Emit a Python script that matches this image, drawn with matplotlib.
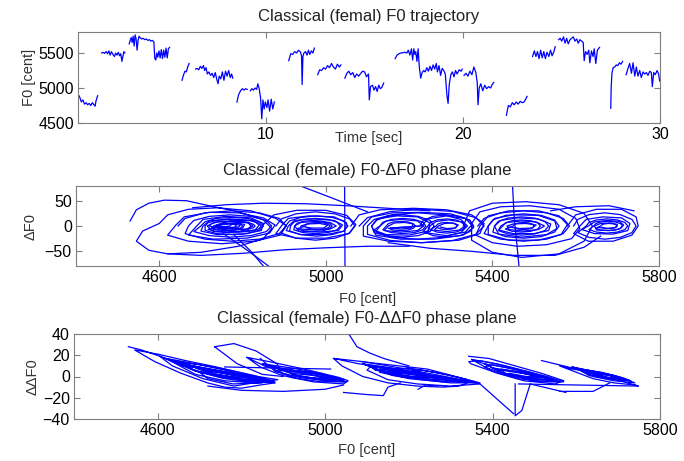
import matplotlib
matplotlib.use('Agg')
import matplotlib.pyplot as plt

plt.rcParams['font.family'] = ['Liberation Sans', 'DejaVu Sans']

# ---------------- top panel: F0 trajectory, voiced segments (time [sec], F0 [cent]) ----------------
f0_segments = [
    [(0.50,4890),(0.55,4860),(0.62,4800),(0.70,4830),(0.78,4770),(0.86,4790),(0.94,4760),(1.02,4780),
     (1.10,4750),(1.18,4790),(1.26,4760),(1.32,4740),(1.36,4810),(1.40,4850),(1.45,4890)],
    [(1.65,5500),(1.72,5510),(1.80,5495),(1.88,5520),(1.95,5490),(2.02,5530),(2.08,5470),(2.15,5520),
     (2.22,5480),(2.30,5450),(2.36,5500),(2.43,5470),(2.50,5510),(2.56,5460),(2.62,5490),(2.68,5380),
     (2.72,5440),(2.78,5520),(2.83,5500)],
    [(3.05,5630),(3.10,5680),(3.15,5720),(3.20,5650),(3.25,5740),(3.30,5600),(3.35,5760),(3.40,5700),
     (3.45,5540),(3.50,5680),(3.55,5740),(3.60,5720),(3.68,5700),(3.76,5710),(3.84,5690),(3.92,5700),
     (4.00,5680),(4.08,5690),(4.15,5670),(4.22,5680),(4.30,5660),(4.35,5420),(4.40,5400),(4.45,5500),
     (4.50,5440),(4.56,5530),(4.62,5430),(4.68,5550),(4.74,5420),(4.80,5540),(4.86,5440),(4.92,5570),
     (4.98,5430),(5.04,5560),(5.10,5580)],
    [(5.73,5110),(5.80,5180),(5.88,5240),(5.95,5230),(6.02,5300),(6.09,5350)],
    [(6.42,5270),(6.50,5280),(6.58,5260),(6.66,5310),(6.74,5280),(6.82,5320),(6.88,5250),(6.95,5290),
     (7.02,5200),(7.10,5230),(7.18,5180),(7.26,5210),(7.34,5150),(7.42,5220),(7.50,5120),(7.56,5060),
     (7.62,5170),(7.70,5130),(7.78,5230),(7.86,5110),(7.94,5240),(8.02,5170),(8.10,5250),(8.18,5150),
     (8.25,5200),(8.31,5140)],
    [(8.52,4800),(8.60,4900),(8.70,4960),(8.80,4990),(8.88,4970),(8.96,4990),(9.04,4980)],
    [(9.20,4960),(9.28,4990),(9.36,4970),(9.44,5000),(9.52,4980),(9.58,5060),(9.65,4990),(9.72,4860),
     (9.78,4560),(9.84,4830),(9.90,4700),(9.96,4800),(10.04,4720),(10.10,4830),(10.18,4670),(10.26,4840),
     (10.34,4700),(10.42,4800)],
    [(11.15,5390),(11.25,5490),(11.35,5480),(11.45,5520),(11.55,5500),(11.65,5540),(11.75,5510),(11.80,5460),
     (11.83,5050),(11.87,5450),(11.92,5500),(12.00,5520),(12.08,5470),(12.15,5540),(12.22,5480),(12.30,5530),
     (12.38,5500),(12.45,5570)],
    [(12.62,5190),(12.72,5260),(12.82,5250),(12.92,5290),(13.02,5270),(13.12,5320),(13.22,5290),(13.32,5350),
     (13.42,5300),(13.52,5270),(13.62,5340),(13.72,5300),(13.80,5330)],
    [(14.00,5140),(14.10,5210),(14.20,5240),(14.30,5190),(14.40,5220),(14.50,5150),(14.60,5200),(14.70,5170),
     (14.81,5210),(14.90,5240),(15.00,5230),(15.10,5160),(15.20,5200),(15.24,4830),(15.30,5020),(15.40,5040),
     (15.48,4970),(15.56,5020),(15.64,4950),(15.72,5040),(15.80,4990),(15.88,5010),(15.97,5070)],
    [(16.55,5420),(16.65,5470),(16.75,5490),(16.85,5500),(16.95,5505),(17.05,5510),(17.15,5500),(17.22,5540),
     (17.30,5470),(17.38,5560),(17.44,5400),(17.50,5560),(17.55,5480),(17.60,5520),(17.66,5380),(17.72,5560),
     (17.78,5300),(17.85,5140),(17.92,5220),(18.00,5250),(18.08,5230),(18.16,5290),(18.24,5240),(18.32,5310),
     (18.40,5250),(18.48,5330),(18.56,5270),(18.64,5350),(18.70,5230),(18.78,5320),(18.86,5180),(18.94,5280),
     (19.02,5250),(19.10,5200),(19.18,4900),(19.24,4780),(19.30,5050),(19.38,5190),(19.46,5230),(19.54,5160),
     (19.62,5250),(19.70,5200),(19.80,5260),(19.90,5240),(19.96,5270)],
    [(20.05,5180),(20.15,5210),(20.25,5170),(20.35,5240),(20.45,5190),(20.55,5300),(20.65,5220),(20.72,5080),
     (20.76,4760),(20.82,5000),(20.90,5060),(21.00,4960),(21.10,5040),(21.20,4990),(21.30,5020),(21.40,5000),
     (21.48,5050),(21.56,5080)],
    [(22.20,4610),(22.30,4750),(22.40,4730),(22.50,4790),(22.60,4760),(22.70,4800),(22.80,4770),(22.90,4810),
     (23.00,4790),(23.10,4800),(23.18,4840),(23.25,4880)],
    [(23.53,5450),(23.62,5530),(23.70,5450),(23.78,5520),(23.86,5420),(23.94,5540),(24.02,5430),(24.10,5520),
     (24.18,5420),(24.26,5510),(24.36,5450),(24.44,5540),(24.52,5460),(24.60,5510),(24.68,5590)],
    [(24.85,5690),(24.93,5710),(25.01,5670),(25.10,5730),(25.18,5640),(25.26,5710),(25.34,5630),(25.43,5690),
     (25.51,5710),(25.60,5730),(25.68,5670),(25.77,5700),(25.85,5640),(25.93,5690),(26.02,5670),(26.10,5650),
     (26.15,5390),(26.22,5520),(26.30,5480),(26.38,5540),(26.44,5360),(26.52,5530),(26.60,5450),(26.66,5560),
     (26.74,5350),(26.82,5540),(26.93,5580)],
    [(27.50,4710),(27.52,5000),(27.56,5210),(27.62,5290),(27.70,5300),(27.78,5330),(27.86,5320),(27.94,5360),
     (28.02,5340),(28.10,5380)],
    [(28.28,5190),(28.40,5300),(28.46,5350),(28.55,5210),(28.63,5360),(28.72,5170),(28.80,5300),(28.88,5170),
     (28.97,5250),(29.05,5150),(29.14,5230),(29.22,5200),(29.31,5220),(29.39,5180),(29.48,5240),(29.56,5220),
     (29.61,5020),(29.68,5220),(29.76,5190),(29.85,5250),(29.93,5200),(29.98,5100)],
]

# ---------------- middle panel: F0 - dF0 phase plane (F0, dF0) ----------------
dF0_cluster1 = [(4530,10),(4545,32),(4575,45),(4612,51),(4665,50),(4720,40),(4790,28),(4850,12),(4870,-5),
    (4850,-25),(4790,-40),(4700,-52),(4620,-55),(4575,-48),(4545,-30),(4560,-10),
    (4600,5),(4620,22),(4670,33),(4740,36),(4820,30),(4880,15),(4905,0),(4890,-18),(4830,-30),(4750,-35),
    (4670,-30),(4620,-18),(4640,2),(4660,18),(4720,27),(4790,26),(4850,16),(4878,2),(4865,-14),(4810,-24),
    (4730,-26),(4670,-18),(4690,0),(4705,13),(4760,19),(4820,16),(4850,5),(4845,-9),(4800,-16),(4740,-17),
    (4700,-10),(4705,0),(4720,10),(4770,14),(4825,11),(4840,2),(4830,-8),(4780,-12),(4730,-11),
    (4715,0),(4735,8),(4775,10),(4815,7),(4825,0),(4810,-6),(4770,-9),(4730,-7),
    (4730,0),(4750,5),(4785,6),(4805,3),(4800,-4),(4770,-6),(4740,-4),(4735,0),
    (4745,2),(4770,4),(4795,2),(4790,-2),(4765,-3),(4750,-1)]
dF0_dense1 = [(4645,0),(4662,15),(4710,26),(4775,30),(4840,26),(4888,15),(4905,0),(4888,-15),(4840,-26),(4775,-30),(4710,-26),(4662,-15),
    (4670,0),(4683,11),(4720,19),(4770,22),(4820,19),(4857,11),(4870,0),(4857,-11),(4820,-19),(4770,-22),(4720,-19),(4683,-11),
    (4700,0),(4710,8.5),(4737,15),(4775,17),(4812,15),(4840,8.5),(4850,0),(4840,-8.5),(4812,-15),(4775,-17),(4737,-15),(4710,-8.5),
    (4710,0),(4717,6.5),(4737,11),(4765,13),(4792,11),(4813,6.5),(4820,0),(4813,-6.5),(4792,-11),(4765,-13),(4737,-11),(4717,-6.5),
    (4745,0),(4752,6),(4770,10),(4795,12),(4820,10),(4838,6),(4845,0),(4838,-6),(4820,-10),(4795,-12),(4770,-10),(4752,-6),
    (4720,0),(4725,4.5),(4740,8),(4760,9),(4780,8),(4795,4.5),(4800,0),(4795,-4.5),(4780,-8),(4760,-9),(4740,-8),(4725,-4.5),
    (4770,0),(4774,3.5),(4785,6),(4800,7),(4815,6),(4826,3.5),(4830,0),(4826,-3.5),(4815,-6),(4800,-7),(4785,-6),(4774,-3.5),
    (4735,0),(4738,2.5),(4748,4.3),(4760,5),(4772,4.3),(4782,2.5),(4785,0),(4782,-2.5),(4772,-4.3),(4760,-5),(4748,-4.3),(4738,-2.5)]
dF0_cluster2 = [(4850,3),(4875,22),(4930,31),(5000,31),(5050,21),(5072,3),(5055,-15),(5000,-24),(4930,-24),
    (4880,-15),(4895,2),(4910,15),(4960,20),(5020,18),(5050,6),(5045,-10),(5000,-17),(4940,-17),(4905,-9),
    (4910,0),(4925,11),(4970,14),(5020,11),(5040,2),(5030,-9),(4985,-12),(4935,-10),
    (4925,0),(4940,7),(4975,9),(5010,7),(5025,0),(5010,-6),(4975,-8),(4940,-6),
    (4940,0),(4955,4),(4985,5),(5005,2),(4995,-4),(4965,-4),(4945,-1)]
dF0_dense2 = [(4880,0),(4893,14),(4928,24),(4975,28),(5022,24),(5057,14),(5070,0),(5057,-14),(5022,-24),(4975,-28),(4928,-24),(4893,-14),
    (4903,0),(4913,10),(4940,17),(4978,20),(5015,17),(5043,10),(5053,0),(5043,-10),(5015,-17),(4978,-20),(4940,-17),(4913,-10),
    (4915,0),(4923,7.5),(4945,13),(4975,15),(5005,13),(5027,7.5),(5035,0),(5027,-7.5),(5005,-13),(4975,-15),(4945,-13),(4923,-7.5),
    (4925,0),(4931,5.5),(4948,9.5),(4970,11),(4992,9.5),(5009,5.5),(5015,0),(5009,-5.5),(4992,-9.5),(4970,-11),(4948,-9.5),(4931,-5.5),
    (4950,0),(4954,3.5),(4965,6),(4980,7),(4995,6),(5006,3.5),(5010,0),(5006,-3.5),(4995,-6),(4980,-7),(4965,-6),(4954,-3.5)]
dF0_cluster3 = [(5060,0),(5080,22),(5130,32),(5210,35),(5290,32),(5350,22),(5380,5),(5370,-15),(5320,-28),
    (5230,-33),(5150,-30),(5090,-20),(5090,0),(5110,18),(5160,26),(5230,27),(5300,24),(5345,12),(5355,-3),
    (5330,-18),(5260,-26),(5180,-26),(5120,-18),(5110,0),(5125,14),(5170,20),(5220,18),(5250,6),(5245,-10),
    (5200,-18),(5145,-17),(5115,-8),(5130,0),(5145,10),(5180,13),(5220,10),(5235,0),(5220,-9),(5180,-12),
    (5140,-9),(5150,0),(5165,6),(5190,7),(5210,4),(5205,-4),(5180,-6),(5155,-4),
    (5230,0),(5245,14),(5290,20),(5335,15),(5350,2),(5335,-12),(5290,-19),(5245,-14),
    (5250,0),(5265,9),(5295,12),(5325,8),(5335,0),(5320,-8),(5290,-11),(5260,-8),
    (5270,0),(5285,5),(5305,6),(5318,2),(5310,-4),(5290,-5),(5275,-2)]
dF0_dense3 = [(5080,0),(5100,16.5),(5155,28.6),(5230,33),(5305,28.6),(5360,16.5),(5380,0),(5360,-16.5),(5305,-28.6),(5230,-33),(5155,-28.6),(5100,-16.5),
    (5100,0),(5116,13),(5160,22.5),(5220,26),(5280,22.5),(5324,13),(5340,0),(5324,-13),(5280,-22.5),(5220,-26),(5160,-22.5),(5116,-13),
    (5110,0),(5120,11),(5147,19),(5185,22),(5222,19),(5250,11),(5260,0),(5250,-11),(5222,-19),(5185,-22),(5147,-19),(5120,-11),
    (5130,0),(5137,7.5),(5157,13),(5185,15),(5212,13),(5233,7.5),(5240,0),(5233,-7.5),(5212,-13),(5185,-15),(5157,-13),(5137,-7.5),
    (5145,0),(5150,4.5),(5162,8),(5180,9),(5197,8),(5210,4.5),(5215,0),(5210,-4.5),(5197,-8),(5180,-9),(5162,-8),(5150,-4.5),
    (5225,0),(5234,11),(5257,19),(5290,22),(5322,19),(5346,11),(5355,0),(5346,-11),(5322,-19),(5290,-22),(5257,-19),(5234,-11),
    (5245,0),(5251,7),(5267,12),(5290,14),(5312,12),(5329,7),(5335,0),(5329,-7),(5312,-12),(5290,-14),(5267,-12),(5251,-7),
    (5265,0),(5268,3.5),(5277,6),(5290,7),(5302,6),(5312,3.5),(5315,0),(5312,-3.5),(5302,-6),(5290,-7),(5277,-6),(5268,-3.5)]
dF0_cluster4 = [(5330,0),(5345,30),(5400,45),(5480,48),(5560,42),(5620,25),(5640,0),(5620,-30),(5560,-55),
    (5470,-62),(5400,-52),(5350,-28),(5350,5),(5370,28),(5420,38),(5490,40),(5560,33),(5600,15),(5610,-5),
    (5590,-25),(5530,-37),(5460,-40),(5400,-33),(5360,-18),(5370,0),(5390,20),(5440,30),(5510,30),(5560,20),
    (5580,3),(5565,-17),(5510,-28),(5440,-28),(5390,-17),(5390,0),(5405,15),(5450,22),(5510,21),(5550,10),
    (5555,-5),(5530,-17),(5470,-22),(5415,-16),(5405,0),(5420,11),(5460,16),(5510,14),(5540,4),(5535,-9),
    (5500,-15),(5450,-15),(5415,-8),(5420,0),(5435,7),(5470,10),(5505,8),(5525,0),(5510,-7),(5475,-10),
    (5440,-7),(5435,0),(5450,4),(5480,5),(5505,2),(5495,-4),(5465,-5),(5440,-2)]
dF0_dense4 = [(5365,0),(5380,15),(5420,26),(5475,30),(5530,26),(5570,15),(5585,0),(5570,-15),(5530,-26),(5475,-30),(5420,-26),(5380,-15),
    (5390,0),(5401,12),(5432,21),(5475,24),(5517,21),(5549,12),(5560,0),(5549,-12),(5517,-21),(5475,-24),(5432,-21),(5401,-12),
    (5405,0),(5414,9),(5437,15.6),(5470,18),(5502,15.6),(5526,9),(5535,0),(5526,-9),(5502,-15.6),(5470,-18),(5437,-15.6),(5414,-9),
    (5425,0),(5431,6),(5447,10.4),(5470,12),(5492,10.4),(5509,6),(5515,0),(5509,-6),(5492,-10.4),(5470,-12),(5447,-10.4),(5431,-6),
    (5450,0),(5453,3.5),(5462,6),(5475,7),(5487,6),(5497,3.5),(5500,0),(5497,-3.5),(5487,-6),(5475,-7),(5462,-6),(5453,-3.5)]
dF0_cluster5 = [(5580,0),(5600,22),(5650,33),(5710,33),(5745,18),(5750,0),(5735,-18),(5690,-30),(5630,-30),
    (5595,-15),(5610,0),(5625,13),(5665,18),(5710,16),(5730,5),(5725,-9),(5690,-16),(5645,-15),(5615,-7),
    (5630,0),(5645,8),(5675,11),(5705,9),(5715,2),(5705,-6),(5680,-9),(5650,-8),
    (5645,0),(5660,5),(5685,6),(5700,3),(5695,-3),(5675,-5),(5655,-3)]
dF0_dense5 = [(5595,0),(5605,13),(5632,22.5),(5670,26),(5707,22.5),(5735,13),(5745,0),(5735,-13),(5707,-22.5),(5670,-26),(5632,-22.5),(5605,-13),
    (5625,0),(5632,7),(5650,12),(5675,14),(5700,12),(5718,7),(5725,0),(5718,-7),(5700,-12),(5675,-14),(5650,-12),(5632,-7),
    (5643,0),(5648,4.5),(5660,8),(5678,9),(5695,8),(5708,4.5),(5713,0),(5708,-4.5),(5695,-8),(5678,-9),(5660,-8),(5648,-4.5),
    (5660,0),(5663,2.5),(5670,4.3),(5680,5),(5690,4.3),(5697,2.5),(5700,0),(5697,-2.5),(5690,-4.3),(5680,-5),(5670,-4.3),(5663,-2.5)]
dF0_links = [
    [(5045,90),(5046,-90)],
    [(4920,85),(5000,60),(5100,28)],
    [(5448,85),(5452,20),(5458,-30),(5465,-90)],
    [(4752,-14),(4815,-50),(4880,-90)],
    [(4780,-18),(4820,-50),(4856,-85)],
    [(4620,-55),(4700,-58),(4800,-54),(4900,-47),(5000,-43),(5100,-40),(5200,-40)],
    [(4680,36),(4760,42),(4850,45),(4950,44),(5050,40),(5150,35),(5250,30)],
    [(5150,-33),(5250,-44),(5350,-50),(5450,-58),(5550,-58),(5620,-42),(5660,-20)],
    [(5540,30),(5600,38),(5680,40),(5740,30)],
]

# ---------------- bottom panel: F0 - ddF0 phase plane (F0, ddF0) ----------------
ddF0_cluster1 = [(4530,28),(4561,25),(4635,15),(4719,6),(4803,0),(4866,-4),(4880,-6),(4845,-8),(4800,-11),
    (4760,-10),(4719,-6),(4656,3),(4593,14),(4545,25),
    (4601,21),(4666,15),(4740,9),(4824,1),(4887,-3),(4845,-5),(4782,-9),(4708,-2),(4635,10),(4605,19),
    (4640,13),(4700,9),(4770,4),(4840,-1),(4875,-4),(4820,-4),(4750,-1),(4680,7),
    (4660,12),(4720,7),(4790,2),(4850,-3),(4860,-5),(4800,-3),(4730,2),(4690,8),
    (4700,8),(4760,3),(4820,-2),(4830,-4),(4790,-2),(4730,3),(4710,6),
    (4720,5),(4770,2),(4810,-1),(4780,-1),(4740,2)]
ddF0_dense1 = [(4640,14),(4700,11),(4760,6),(4820,0),(4880,-6),(4820,-5),(4760,-2),(4700,4),(4640,14),
    (4660,10),(4720,7),(4780,3),(4840,-2),(4870,-4),(4810,-3),(4750,0),(4690,5),(4660,10),
    (4690,9),(4750,5),(4810,0),(4860,-4),(4800,-1),(4740,2),(4690,9),
    (4620,17),(4690,12),(4760,7),(4830,1),(4880,-5),(4830,-6),(4760,-4),(4690,2),(4620,17),
    (4700,4),(4740,5),(4800,2),(4850,-6),(4780,-7),(4720,-2),(4700,4)]
ddF0_cluster2 = [(4813,18),(4866,14),(4950,7),(5034,-1),(5055,-4),(5044,-7),(4971,-5),(4897,1),(4845,9),
    (4813,18),(4860,9),(4920,6),(4990,2),(5040,-3),(5000,-4),(4940,-1),(4880,5),
    (4890,6),(4950,3),(5010,-1),(5030,-3),(4980,-2),(4920,2),
    (4920,3),(4970,1),(5010,-2),(4960,-1)]
ddF0_dense2 = [(4880,8),(4940,5),(5000,1),(5050,-5),(5000,-4),(4940,0),(4880,8),
    (4900,7),(4960,4),(5020,0),(5045,-3),(4990,-3),(4930,1),(4900,7),
    (4850,12),(4920,8),(4990,3),(5050,-5),(4990,-5),(4920,-1),(4850,12),
    (4920,5),(4970,3),(5020,-1),(4980,-2),(4930,1)]
ddF0_cluster3 = [(5020,17),(5080,12),(5150,8),(5230,2),(5300,-3),(5340,-6),(5320,-9),(5280,-10),(5220,-9),
    (5150,-6),(5090,0),(5040,10),(5020,17),
    (5090,14),(5180,8),(5260,2),(5340,-4),(5370,-7),(5300,-9),(5220,-7),(5150,-3),(5100,6),
    (5110,10),(5170,7),(5240,2),(5300,-2),(5340,-5),(5280,-5),(5200,-2),(5130,4),
    (5130,7),(5190,4),(5250,0),(5300,-3),(5250,-3),(5180,0),(5140,4),
    (5150,4),(5200,2),(5260,-1),(5220,-1),(5160,2)]
ddF0_dense3 = [(5090,12),(5160,8),(5230,3),(5300,-2),(5360,-6),(5300,-6),(5230,-3),(5160,1),(5090,12),
    (5110,9),(5170,6),(5230,2),(5290,-2),(5330,-5),(5270,-4),(5210,-1),(5150,3),(5110,9),
    (5120,6),(5180,4),(5240,0),(5290,-3),(5240,-2),(5180,1),(5120,6),
    (5200,8),(5260,4),(5320,-1),(5370,-6),(5320,-5),(5260,-1),(5200,8),
    (5150,5),(5200,3),(5250,0),(5210,0),(5160,3),
    (5230,6),(5290,2),(5340,-3),(5290,-3),(5240,1)]
ddF0_cluster4 = [(5343,19),(5391,17),(5454,10),(5517,3),(5570,-4),(5549,-7),(5475,-4),(5412,3),(5348,12),
    (5343,14),(5370,15),(5430,10),(5490,4),(5540,-2),(5560,-5),(5500,-4),(5440,1),(5380,9),
    (5400,11),(5460,6),(5510,1),(5545,-3),(5490,-2),(5430,3),
    (5420,7),(5470,4),(5520,0),(5480,0),(5440,3)]
ddF0_dense4 = [(5350,16),(5410,12),(5470,6),(5530,0),(5570,-5),(5520,-5),(5460,-2),(5400,5),(5350,16),
    (5380,12),(5440,8),(5500,2),(5550,-4),(5500,-3),(5440,1),(5380,12),
    (5400,8),(5450,5),(5510,0),(5540,-3),(5490,-2),(5430,2),(5400,8),
    (5420,6),(5470,3),(5520,-1),(5480,-1),(5430,3)]
ddF0_cluster5 = [(5517,15),(5580,9),(5643,3),(5706,-4),(5748,-9),(5740,-8),(5690,-6),(5640,-2),(5600,4),
    (5560,10),(5590,7),(5640,4),(5700,-1),(5730,-4),(5690,-3),(5630,1),
    (5610,6),(5660,3),(5710,-2),(5670,-1),(5620,4)]
ddF0_dense5 = [(5590,9),(5640,5),(5690,1),(5740,-6),(5690,-4),(5640,0),(5590,9),
    (5610,7),(5660,4),(5710,-1),(5730,-4),(5680,-2),(5630,2),(5610,7),
    (5630,5),(5670,2),(5710,-2),(5670,-1),(5640,2)]
ddF0_links = [
    [(4736,28),(4782,31),(4835,24),(4885,12),(4900,0),(4850,2),(4790,12),(4736,28)],
    [(4760,9),(4880,8),(5013,7)],
    [(4720,-9),(4800,-13),(4900,-14),(5000,-12),(5044,-8)],
    [(4845,17),(4880,5),(4930,-1)],
    [(5055,41),(5076,28),(5107,22),(5140,17),(5200,10)],
    [(5044,-15),(5100,-17),(5139,-18),(5150,-10),(5180,-6)],
    [(5086,14),(5244,7),(5359,-5)],
    [(5222,-12),(5240,-8),(5270,-9)],
    [(5454,-7),(5454,-37),(5470,-32),(5490,-7)],
    [(5370,-7),(5450,-35)],
    [(5490,-7),(5575,-15)],
    [(5462,-7),(5600,-8),(5748,-9)],
    [(5680,-6),(5640,-14),(5560,-14)],
]

# ---------------- labels ----------------
titles = ['Classical (femal) F0 trajectory',
          'Classical (female) F0-\u0394F0 phase plane',
          'Classical (female) F0-\u0394\u0394F0 phase plane']
xlabels = ['Time [sec]', 'F0 [cent]', 'F0 [cent]']
ylabels = ['F0 [cent]', '\u0394F0', '\u0394\u0394F0']
top_xticks = [10, 20, 30]
top_yticks = [4500, 5000, 5500]
f0_xticks = [4600, 5000, 5400, 5800]
d_yticks = [-50, 0, 50]
dd_yticks = [-40, -20, 0, 20, 40]

LINE = '#0000ff'
LW = 0.9

fig = plt.figure(figsize=(6.84, 4.61), dpi=100)
W, H = 684.0, 461.0
def add_ax(l, r, t, b):
    return fig.add_axes([l / W, 1 - b / H, (r - l) / W, (b - t) / H])

ax1 = add_ax(78, 660, 32, 123)
ax2 = add_ax(76, 659, 186, 266)
ax3 = add_ax(74, 660, 334, 419)

for seg in f0_segments:
    ax1.plot([p[0] for p in seg], [p[1] for p in seg], color=LINE, lw=LW)
mid_paths = [dF0_cluster1, dF0_dense1, dF0_cluster2, dF0_dense2, dF0_cluster3, dF0_dense3,
             dF0_cluster4, dF0_dense4, dF0_cluster5, dF0_dense5] + dF0_links
for path in mid_paths:
    ax2.plot([p[0] for p in path], [p[1] for p in path], color=LINE, lw=LW)
bot_paths = [ddF0_cluster1, ddF0_dense1, ddF0_cluster2, ddF0_dense2, ddF0_cluster3, ddF0_dense3,
             ddF0_cluster4, ddF0_dense4, ddF0_cluster5, ddF0_dense5] + ddF0_links
for path in bot_paths:
    ax3.plot([p[0] for p in path], [p[1] for p in path], color=LINE, lw=LW)

ax1.set_xlim(0.45, 30); ax1.set_ylim(4500, 5800)
ax1.set_xticks(top_xticks); ax1.set_yticks(top_yticks)
ax2.set_xlim(4400, 5800); ax2.set_ylim(-79, 79)
ax2.set_xticks(f0_xticks); ax2.set_yticks(d_yticks)
ax3.set_xlim(4400, 5800); ax3.set_ylim(-40, 40)
ax3.set_xticks(f0_xticks); ax3.set_yticks(dd_yticks)

for ax, title, xl, yl in zip([ax1, ax2, ax3], titles, xlabels, ylabels):
    for s in ax.spines.values():
        s.set_color('#7f7f7f'); s.set_linewidth(0.8)
    ax.tick_params(direction='in', length=4, width=0.8, color='#7f7f7f',
                   top=True, right=True, labelsize=11.5, labelcolor='black', pad=3)
    ax.set_title(title, fontsize=12, pad=8, color='#222222')
    ax.set_xlabel(xl, fontsize=10.5, color='#333333')
    ax.set_ylabel(yl, fontsize=10.5, color='#333333')

ax1.xaxis.set_label_coords(0.5, -0.09)
ax2.xaxis.set_label_coords(0.5, -0.33)
ax3.xaxis.set_label_coords(0.5, -0.28)
ax1.yaxis.set_label_coords(-0.072, 0.5)
ax2.yaxis.set_label_coords(-0.065, 0.5)
ax3.yaxis.set_label_coords(-0.058, 0.5)

fig.savefig('out.png', dpi=100)
